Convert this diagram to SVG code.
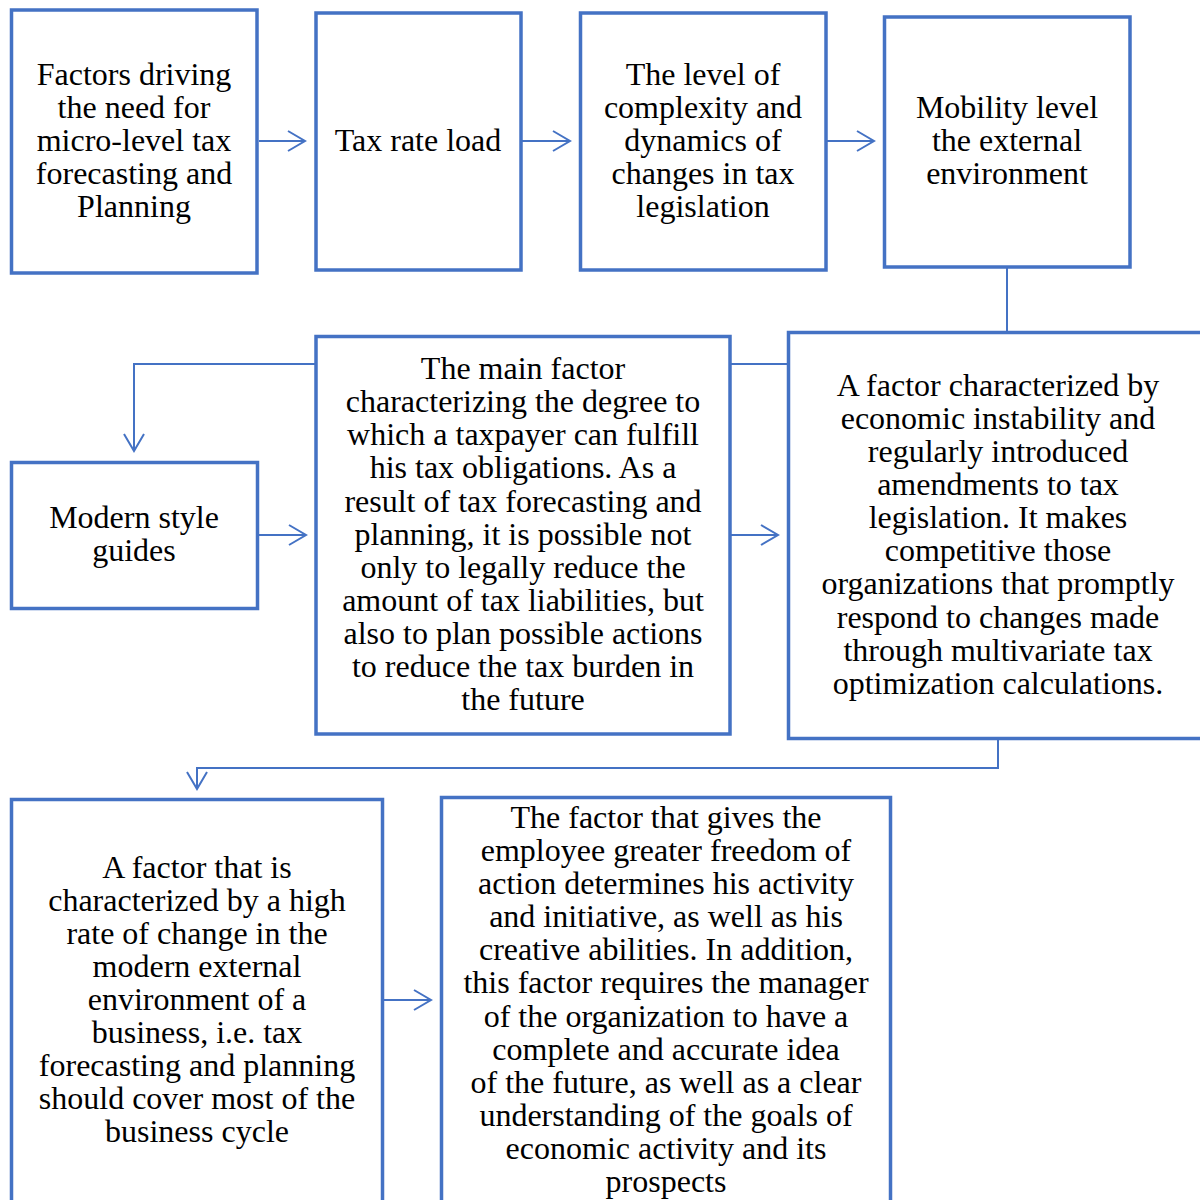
<svg xmlns="http://www.w3.org/2000/svg" width="1200" height="1200" viewBox="0 0 1200 1200">
<style>
.box{fill:#ffffff;stroke:#4472C4;stroke-width:3.5}
.con{fill:none;stroke:#4472C4;stroke-width:2}
.t{font-family:"Liberation Serif","Times New Roman",serif;font-size:32px;fill:#000;text-anchor:middle}
</style>
<defs>
<marker id="arr" markerUnits="userSpaceOnUse" markerWidth="22" markerHeight="24" refX="18" refY="11" orient="auto" viewBox="0 0 22 24">
<path d="M1,1 L18,11 L1,21" fill="none" stroke="#4472C4" stroke-width="2"/>
</marker>
</defs>
<rect width="1200" height="1200" fill="#ffffff"/>
<g id="connectors">
<path class="con" d="M259,141 H305" marker-end="url(#arr)"/>
<path class="con" d="M522,141 H570" marker-end="url(#arr)"/>
<path class="con" d="M827,141 H874" marker-end="url(#arr)"/>
<path class="con" d="M1007,268 V331"/>
<path class="con" d="M787,364 H731"/>
<path class="con" d="M315,364 H134 V451" marker-end="url(#arr)"/>
<path class="con" d="M259,535 H306" marker-end="url(#arr)"/>
<path class="con" d="M731,535 H778" marker-end="url(#arr)"/>
<path class="con" d="M998,740 V768 H197 V789" marker-end="url(#arr)"/>
<path class="con" d="M384,1000 H431" marker-end="url(#arr)"/>
</g>
<g id="n1">
<rect class="box" x="11.5" y="10" width="245.5" height="263"/>
<text class="t"><tspan x="134" y="85">Factors driving</tspan><tspan x="134" y="118">the need for</tspan><tspan x="134" y="151">micro-level tax</tspan><tspan x="134" y="184">forecasting and</tspan><tspan x="134" y="217">Planning</tspan></text>
</g>
<g id="n2">
<rect class="box" x="316" y="13" width="205" height="257"/>
<text class="t"><tspan x="418" y="151">Tax rate load</tspan></text>
</g>
<g id="n3">
<rect class="box" x="580.5" y="13" width="245.5" height="257"/>
<text class="t"><tspan x="703" y="85">The level of</tspan><tspan x="703" y="118">complexity and</tspan><tspan x="703" y="151">dynamics of</tspan><tspan x="703" y="184">changes in tax</tspan><tspan x="703" y="217">legislation</tspan></text>
</g>
<g id="n4">
<rect class="box" x="884.5" y="17" width="245.5" height="250"/>
<text class="t"><tspan x="1007" y="118">Mobility level</tspan><tspan x="1007" y="151">the external</tspan><tspan x="1007" y="184">environment</tspan></text>
</g>
<g id="n5">
<rect class="box" x="788.5" y="332.5" width="422" height="406"/>
<text class="t"><tspan x="998" y="396">A factor characterized by</tspan><tspan x="998" y="429">economic instability and</tspan><tspan x="998" y="462">regularly introduced</tspan><tspan x="998" y="495">amendments to tax</tspan><tspan x="998" y="528">legislation. It makes</tspan><tspan x="998" y="561">competitive those</tspan><tspan x="998" y="594">organizations that promptly</tspan><tspan x="998" y="628">respond to changes made</tspan><tspan x="998" y="661">through multivariate tax</tspan><tspan x="998" y="694">optimization calculations.</tspan></text>
</g>
<g id="n6">
<rect class="box" x="316" y="336.5" width="414" height="397.5"/>
<text class="t"><tspan x="523" y="379">The main factor</tspan><tspan x="523" y="412">characterizing the degree to</tspan><tspan x="523" y="445">which a taxpayer can fulfill</tspan><tspan x="523" y="478">his tax obligations. As a</tspan><tspan x="523" y="512">result of tax forecasting and</tspan><tspan x="523" y="545">planning, it is possible not</tspan><tspan x="523" y="578">only to legally reduce the</tspan><tspan x="523" y="611">amount of tax liabilities, but</tspan><tspan x="523" y="644">also to plan possible actions</tspan><tspan x="523" y="677">to reduce the tax burden in</tspan><tspan x="523" y="710">the future</tspan></text>
</g>
<g id="n7">
<rect class="box" x="11.5" y="462.5" width="246" height="146"/>
<text class="t"><tspan x="134" y="528">Modern style</tspan><tspan x="134" y="561">guides</tspan></text>
</g>
<g id="n8">
<rect class="box" x="11.5" y="799.5" width="371" height="430"/>
<text class="t"><tspan x="197" y="878">A factor that is</tspan><tspan x="197" y="911">characterized by a high</tspan><tspan x="197" y="944">rate of change in the</tspan><tspan x="197" y="977">modern external</tspan><tspan x="197" y="1010">environment of a</tspan><tspan x="197" y="1043">business, i.e. tax</tspan><tspan x="197" y="1076">forecasting and planning</tspan><tspan x="197" y="1109">should cover most of the</tspan><tspan x="197" y="1142">business cycle</tspan></text>
</g>
<g id="n9">
<rect class="box" x="441.5" y="797.5" width="449" height="430"/>
<text class="t"><tspan x="666" y="828">The factor that gives the</tspan><tspan x="666" y="861">employee greater freedom of</tspan><tspan x="666" y="894">action determines his activity</tspan><tspan x="666" y="927">and initiative, as well as his</tspan><tspan x="666" y="960">creative abilities. In addition,</tspan><tspan x="666" y="993">this factor requires the manager</tspan><tspan x="666" y="1027">of the organization to have a</tspan><tspan x="666" y="1060">complete and accurate idea</tspan><tspan x="666" y="1093">of the future, as well as a clear</tspan><tspan x="666" y="1126">understanding of the goals of</tspan><tspan x="666" y="1159">economic activity and its</tspan><tspan x="666" y="1192">prospects</tspan></text>
</g>
</svg>
